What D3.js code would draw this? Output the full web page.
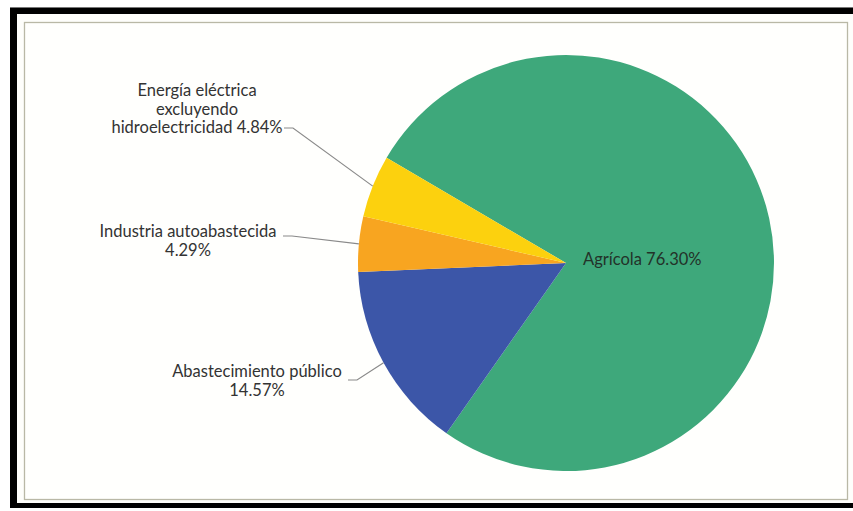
<!DOCTYPE html>
<html>
<head>
<meta charset="utf-8">
<script src="https://cdn.jsdelivr.net/npm/d3@7"></script>
<style>
  html, body { margin: 0; padding: 0; background: #ffffff; }
  svg { display: block; }
</style>
</head>
<body>
<script>
// Uso del agua por sector (porcentaje del volumen concesionado)
const categories = [
  "Agrícola",
  "Abastecimiento público",
  "Industria autoabastecida",
  "Energía eléctrica excluyendo hidroelectricidad"
];
const shares = [76.30, 14.57, 4.29, 4.84];
const shareLabels = ["76.30%", "14.57%", "4.29%", "4.84%"];
const colors = ["#3ea87b", "#3c56a8", "#f8a520", "#fcd10e"];

// Label text lines for each slice (last line carries the percentage)
const labelLines = [
  ["Agrícola 76.30%"],
  ["Abastecimiento público", "14.57%"],
  ["Industria autoabastecida", "4.29%"],
  ["Energía eléctrica", "excluyendo", "hidroelectricidad 4.84%"]
];

const W = 853, H = 511;
const svg = d3.select("body").append("svg")
  .attr("width", W).attr("height", H);

// Framed panel
svg.append("rect").attr("x", 10).attr("y", 7).attr("width", W).attr("height", 501)
  .attr("fill", "#000");
svg.append("line").attr("x1", 10).attr("x2", W).attr("y1", 7.5).attr("y2", 7.5)
  .attr("stroke", "#777").attr("stroke-width", 1);
svg.append("rect").attr("x", 17).attr("y", 14).attr("width", W).attr("height", 489)
  .attr("fill", "#fefefb");
svg.append("rect").attr("x", 24.5).attr("y", 22.5).attr("width", 823).attr("height", 477)
  .attr("fill", "#fffffd").attr("stroke", "#b9b8a6").attr("stroke-width", 1.3);

const cx = 566, cy = 263, R = 208;
const g = svg.append("g").attr("transform", `translate(${cx},${cy})`);

const startDeg = -59.6;
const pie = d3.pie().sort(null).value(d => d)
  .startAngle(startDeg * Math.PI / 180)
  .endAngle(startDeg * Math.PI / 180 + 2 * Math.PI);
const arcs = pie(shares);
const arc = d3.arc().innerRadius(0).outerRadius(R);

g.selectAll("path.slice").data(arcs).enter().append("path")
  .attr("class", "slice")
  .attr("d", arc)
  .attr("fill", (d, i) => colors[i]);

const font = "Lato, 'Open Sans', sans-serif";
const fs = 16.5;

// Agrícola label sits inside its slice, just right of the centre
g.append("text")
  .attr("x", 17).attr("y", 2)
  .attr("font-family", font).attr("font-size", fs)
  .attr("fill", "#233229")
  .text(labelLines[0][0]);

// Outside labels with leader lines from the slice edge to an elbow, then across to the text
const outside = [
  { i: 1, elbow: [357, 380], lineEnd: 348, textX: 257, baseY: 377 },
  { i: 2, elbow: [292, 236], lineEnd: 283, textX: 188, baseY: 237 },
  { i: 3, elbow: [293, 128], lineEnd: 284, textX: 197, baseY: 96 }
];

const lineH = 18.5;
outside.forEach(o => {
  const a = arcs[o.i];
  const mid = (a.startAngle + a.endAngle) / 2;
  const px = cx + R * Math.sin(mid);
  const py = cy - R * Math.cos(mid);
  svg.append("polyline")
    .attr("points", [[px, py], o.elbow, [o.lineEnd, o.elbow[1]]].map(p => p.join(",")).join(" "))
    .attr("fill", "none").attr("stroke", "#8a8a8a").attr("stroke-width", 1.2);
  const t = svg.append("text")
    .attr("font-family", font).attr("font-size", fs)
    .attr("fill", "#333333")
    .attr("text-anchor", "middle");
  labelLines[o.i].forEach((ln, k) => {
    t.append("tspan").attr("x", o.textX).attr("y", o.baseY + k * lineH).text(ln);
  });
});
</script>
</body>
</html>
